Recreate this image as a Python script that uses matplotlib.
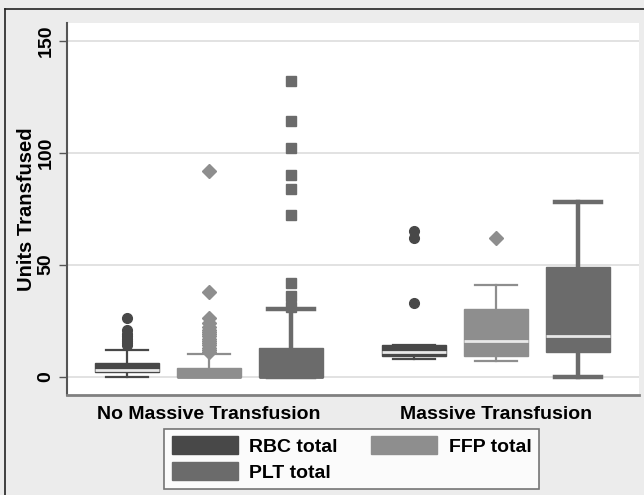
import matplotlib
matplotlib.use("Agg")
import matplotlib.pyplot as plt
import numpy as np
from matplotlib.patches import Patch

plt.rcParams['font.family'] = ['Liberation Sans', 'DejaVu Sans']

groups = ["No Massive Transfusion", "Massive Transfusion"]
series = ["RBC total", "FFP total", "PLT total"]
colors = ["#484848", "#8e8e8e", "#6b6b6b"]
markers = ["o", "D", "s"]

# stats per group per series: (whislo, q1, med, q3, whishi)
stats_nmt = {
    "RBC total": (0, 2, 3, 6, 12),
    "FFP total": (0, 0, 0, 4, 10),
    "PLT total": (0, 0, 0, 13, 30),
}
stats_mt = {
    "RBC total": (8, 9, 11, 14, 14),
    "FFP total": (7, 9, 16, 30, 41),
    "PLT total": (0, 11, 18, 49, 78),
}
outliers_nmt = {
    "RBC total": [14, 15, 16, 17, 18, 19, 21, 26],
    "FFP total": [11, 12, 13, 14, 15, 16, 17, 18, 19, 20, 21, 22, 24, 26, 38, 92],
    "PLT total": [31, 36, 42, 72, 84, 90, 102, 114, 132],
}
outliers_mt = {
    "RBC total": [33, 62, 65],
    "FFP total": [62],
    "PLT total": [],
}
yticks = [0, 50, 100, 150]

fig = plt.figure(figsize=(6.44, 4.95), dpi=100)
fig.patch.set_facecolor("#ececec")
ax = fig.add_axes([67/644, 1-395/495, (639-67)/644, (395-23)/495])
ax.set_facecolor("white")

group_centers = [1.732, 5.232]
offsets = [-1, 0, 1]
width = 0.77

all_stats = [stats_nmt, stats_mt]
all_out = [outliers_nmt, outliers_mt]
for gi, gc in enumerate(group_centers):
    for si, s in enumerate(series):
        lo, q1, med, q3, hi = all_stats[gi][s]
        pos = gc + offsets[si]
        bxp = [{"whislo": lo, "q1": q1, "med": med, "q3": q3, "whishi": hi,
                "fliers": all_out[gi][s], "label": s}]
        thick = s == "PLT total"
        lw_wh = 3.2 if thick else 1.6
        capw = 0.55 if thick else 0.51
        medcol = colors[si] if med == q1 else "#e8e8e8"
        ax.bxp(bxp, positions=[pos], widths=width, patch_artist=True,
               showfliers=True, capwidths=capw,
               boxprops=dict(facecolor=colors[si], edgecolor=colors[si], linewidth=1),
               medianprops=dict(color=medcol, linewidth=2),
               whiskerprops=dict(color=colors[si], linewidth=lw_wh),
               capprops=dict(color=colors[si], linewidth=lw_wh),
               flierprops=dict(marker=markers[si], markerfacecolor=colors[si],
                               markeredgecolor=colors[si],
                               markersize=7 if si != 2 else 6.5,
                               linestyle="none"),
               zorder=3)

ax.set_xlim(0, 6.976)
ax.set_ylim(-8.2, 157.9)
ax.set_yticks(yticks)
ax.set_yticklabels([str(t) for t in yticks], rotation=90, va="center",
                   fontsize=14, fontweight="bold")
ax.tick_params(axis="y", length=6, width=1, color="#555555", pad=3)
ax.set_xticks(group_centers)
ax.set_xticklabels(groups, fontsize=14, fontweight="bold")
ax.tick_params(axis="x", length=0, pad=8)
ax.yaxis.grid(True, color="#dddddd", linewidth=1.2, zorder=0)
ax.set_axisbelow(True)
for sp in ["top", "right"]:
    ax.spines[sp].set_visible(False)
ax.spines["left"].set_color("#555555")
ax.spines["left"].set_linewidth(1.5)
ax.spines["bottom"].set_color("#808080")
ax.spines["bottom"].set_linewidth(2)
ax.set_ylabel("Units Transfused", fontsize=14.5, fontweight="bold", labelpad=1)

handles = [Patch(facecolor=colors[0], edgecolor=colors[0]),
           Patch(facecolor=colors[2], edgecolor=colors[2]),
           Patch(facecolor=colors[1], edgecolor=colors[1])]
labels = ["RBC total", "PLT total", "FFP total"]
leg = fig.legend(handles, labels, ncol=2, loc="center",
                 bbox_to_anchor=((163+540)/2/644, 1-459/495),
                 prop=dict(size=14, weight="bold"), frameon=True, fancybox=False,
                 handlelength=3.4, handleheight=1.05, columnspacing=1.7,
                 labelspacing=0.3, borderpad=0.4, handletextpad=0.6)
leg.get_frame().set_edgecolor("#555555")
leg.get_frame().set_linewidth(1.2)

# outer frame lines (left and top)
fig.add_artist(plt.Line2D([5/644, 5/644], [0, 1-9/495], color="#222222", lw=1.2,
                          transform=fig.transFigure))
fig.add_artist(plt.Line2D([5/644, 1], [1-9/495, 1-9/495], color="#222222", lw=1.2,
                          transform=fig.transFigure))

fig.savefig("out.png", dpi=100, facecolor=fig.get_facecolor())
